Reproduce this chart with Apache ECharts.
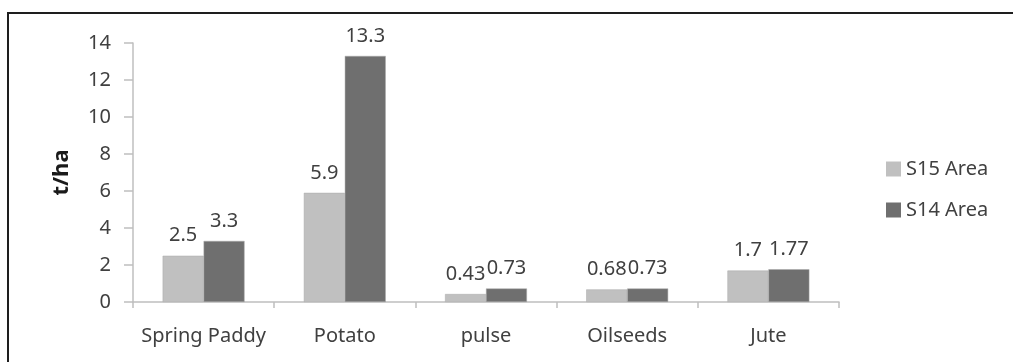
<!DOCTYPE html>
<html>
<head>
<meta charset="utf-8">
<script src="https://cdn.jsdelivr.net/npm/echarts@6/dist/echarts.min.js"></script>
<style>
  html, body { margin: 0; padding: 0; background: #fff; }
  #chart { width: 1013px; height: 362px; }
</style>
</head>
<body>
<div id="chart"></div>
<script>
const categories = ['Spring Paddy', 'Potato', 'pulse', 'Oilseeds', 'Jute']
const s15Area = [2.5, 5.9, 0.43, 0.68, 1.7]
const s14Area = [3.3, 13.3, 0.73, 0.73, 1.77]

const font = 'Noto Sans'
const textColor = '#404040'

const chart = echarts.init(document.getElementById('chart'))

function barSeries(name, data, color) {
  return {
    name: name,
    type: 'bar',
    data: data,
    barGap: '0%',
    barCategoryGap: '42%',
    itemStyle: { color: color, borderColor: '#a8a8a8', borderWidth: 0.5 },
    label: {
      show: true,
      position: 'top',
      distance: 10,
      color: textColor,
      fontFamily: font,
      fontSize: 20
    },
    animation: false
  }
}

chart.setOption({
  backgroundColor: '#fff',
  animation: false,
  grid: { left: 133, right: 174, top: 43, bottom: 60 },
  legend: {
    orient: 'vertical',
    left: 881,
    top: 154,
    itemWidth: 15,
    itemHeight: 15,
    itemGap: 21,
    icon: 'rect',
    itemStyle: { borderWidth: 0 },
    textStyle: { color: textColor, fontFamily: font, fontSize: 20 },
    data: ['S15 Area', 'S14 Area']
  },
  xAxis: {
    type: 'category',
    data: categories,
    axisLine: { lineStyle: { color: '#bfbfbf', width: 1.5 } },
    axisTick: { show: true, length: 6, lineStyle: { color: '#bfbfbf', width: 1.5 } },
    axisLabel: { interval: 0, color: textColor, fontFamily: font, fontSize: 20, margin: 24 }
  },
  yAxis: {
    type: 'value',
    min: 0,
    max: 14,
    interval: 2,
    name: 't/ha',
    nameLocation: 'middle',
    nameGap: 60,
    nameTextStyle: { color: '#1a1a1a', fontFamily: font, fontSize: 22, fontWeight: 'bold' },
    axisLine: { show: true, lineStyle: { color: '#bfbfbf', width: 1.5 } },
    axisTick: { show: true, length: 9, lineStyle: { color: '#bfbfbf', width: 1.5 } },
    axisLabel: { color: textColor, fontFamily: font, fontSize: 20, margin: 22 },
    splitLine: { show: false }
  },
  graphic: [{
    type: 'polyline',
    shape: { points: [[8, 362], [8, 13], [1013, 13]] },
    style: { stroke: '#1e1e1e', lineWidth: 2, fill: null },
    silent: true
  }],
  series: [
    barSeries('S15 Area', s15Area, '#c0c0c0'),
    barSeries('S14 Area', s14Area, '#6f6f6f')
  ]
})
</script>
</body>
</html>
